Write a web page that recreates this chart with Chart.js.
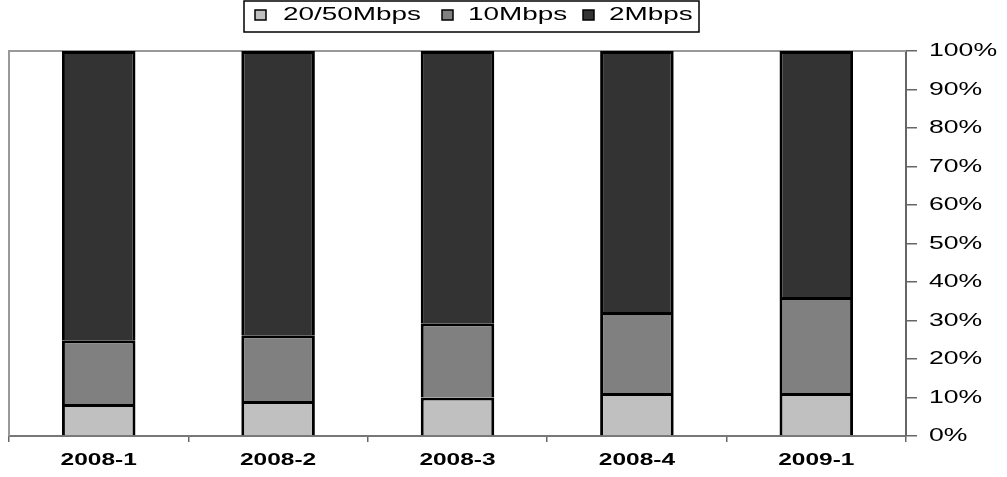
<!DOCTYPE html>
<html>
<head>
<meta charset="utf-8">
<script src="https://cdn.jsdelivr.net/npm/chart.js@4"></script>
<style>
  html,body{margin:0;padding:0;background:#fff}
  #wrap{width:1007px;height:477px;position:relative}
</style>
</head>
<body>
<div id="wrap"><canvas id="c" width="1007" height="477"></canvas></div>
<script>
// quarters
const categories = ['2008-1','2008-2','2008-3','2008-4','2009-1'];
// shares in percent
const s2050 = [8.3, 9.1, 10.0, 11.2, 11.2];
const s10 = [16.6, 17.1, 19.3, 21.0, 24.9];
const s2 = [75.1, 73.8, 70.7, 67.8, 63.9];
const yTicks = [0,10,20,30,40,50,60,70,80,90,100];

const FONT = 'Arial, "Liberation Sans", sans-serif';

// the original text is drawn wide, so labels are drawn here with a horizontal stretch
function wideText(ctx, txt, x, y, sx, align){
  ctx.save();
  ctx.translate(x, y);
  ctx.scale(sx, 1);
  ctx.textAlign = align;
  ctx.textBaseline = 'middle';
  ctx.fillText(txt, 0, 0);
  ctx.restore();
}

const framePlugin = {
  id:'frame',
  beforeDatasetsDraw(chart){
    const {ctx, chartArea:a} = chart;
    ctx.save();
    ctx.strokeStyle = '#999'; ctx.lineWidth = 2;
    ctx.beginPath();
    ctx.moveTo(a.left, a.bottom); ctx.lineTo(a.left, a.top); ctx.lineTo(a.right, a.top);
    ctx.stroke();
    ctx.restore();
  },
  afterDraw(chart){
    const ctx = chart.ctx, xs = chart.scales.x, ys = chart.scales.y;
    ctx.save();
    ctx.fillStyle = '#000';
    // y labels
    ctx.font = '19px ' + FONT;
    ys.ticks.forEach(t=> wideText(ctx, t.value + '%', ys.left + 23, ys.getPixelForValue(t.value), 1.4, 'left'));
    // x labels
    ctx.font = 'bold 16px ' + FONT;
    categories.forEach((c,i)=> wideText(ctx, c, xs.getPixelForTick(i), xs.top + 25, 1.53, 'center'));
    // legend
    ctx.strokeStyle = '#000'; ctx.lineWidth = 1.5;
    ctx.strokeRect(244, 1, 455, 31);
    ctx.font = '18px ' + FONT;
    const sq = [255, 442, 583], tx = [283, 468, 609];
    chart.data.datasets.forEach((d,i)=>{
      ctx.fillStyle = d.backgroundColor;
      ctx.fillRect(sq[i], 10, 11, 10);
      ctx.lineWidth = 1.5; ctx.strokeStyle = '#000';
      ctx.strokeRect(sq[i], 10, 11, 10);
      ctx.fillStyle = '#000';
      wideText(ctx, d.label, tx[i], 15, 1.55, 'left');
    });
    ctx.restore();
  }
};

new Chart(document.getElementById('c'), {
  type:'bar',
  data:{
    labels: categories,
    datasets:[
      {label:'20/50Mbps', data:s2050, backgroundColor:'#c0c0c0', borderColor:'#000', borderWidth:3},
      {label:'10Mbps', data:s10, backgroundColor:'#808080', borderColor:'#000', borderWidth:3},
      {label:'2Mbps', data:s2, backgroundColor:'#333333', borderColor:'#000', borderWidth:3}
    ]
  },
  options:{
    responsive:false, animation:false,
    layout:{padding:{left:9, top:51, right:0, bottom:0}},
    barPercentage:0.41, categoryPercentage:1.0,
    plugins:{ legend:{display:false}, tooltip:{enabled:false} },
    scales:{
      x:{
        stacked:true, offset:true,
        grid:{display:true, drawOnChartArea:false, drawTicks:true, tickLength:6, offset:true, color:'#666', lineWidth:1.5},
        border:{display:true, color:'#777', width:2},
        ticks:{display:false},
        afterFit(scale){ scale.height = 41; }
      },
      y:{
        stacked:true, position:'right', min:0, max:100,
        afterBuildTicks(scale){ scale.ticks = yTicks.map(v=>({value:v})); },
        grid:{display:true, drawOnChartArea:false, drawTicks:true, tickLength:11, color:'#666', lineWidth:1.5},
        border:{display:true, color:'#666', width:2},
        ticks:{display:false},
        afterFit(scale){ scale.width = 101; }
      }
    }
  },
  plugins:[framePlugin]
});
</script>
</body>
</html>
